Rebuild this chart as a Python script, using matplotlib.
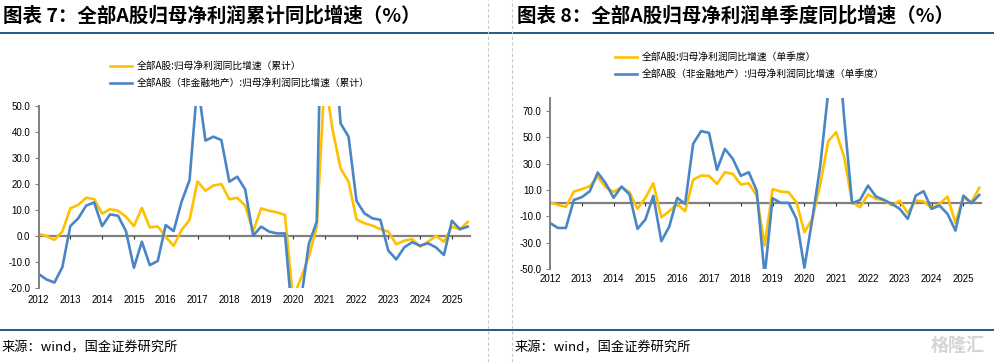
import numpy as np
import matplotlib
matplotlib.use('Agg')
import matplotlib.pyplot as plt
import matplotlib.transforms as mtransforms
from matplotlib.lines import Line2D

plt.rcParams['font.family'] = ['Noto Sans CJK SC', 'DejaVu Sans']

years = list(range(2012, 2026))

# quarterly data 2012Q1 - 2025Q3
cum_all = [0.8, 0.0, -1.5, 1.7, 10.6, 12.0, 14.7, 14.2, 8.6, 10.3, 9.7, 7.4,
           3.8, 10.8, 3.3, 3.7, -0.3, -3.8, 2.3, 6.2, 21.0, 17.4, 19.4, 20.0,
           14.1, 14.7, 11.7, 1.7, 10.6, 9.7, 9.1, 8.1, -24.0, -16.3, -8.0, 3.6,
           61.0, 40.8, 26.0, 20.9, 6.4, 4.9, 4.0, 2.6, 1.7, -3.2, -1.8, -1.2,
           -4.1, -2.2, 0.1, -2.2, 3.6, 2.6, 5.4]
cum_nonfin = [-14.6, -16.7, -17.9, -12.0, 3.8, 6.8, 11.7, 12.9, 3.8, 8.3, 7.8, 1.9,
              -12.2, -2.2, -11.2, -9.6, 4.2, 1.9, 13.2, 21.5, 59.0, 36.7, 38.2, 36.9,
              20.9, 22.8, 17.9, 0.1, 3.6, 1.7, 1.0, 1.0, -34.0, -25.0, -3.1, 5.5,
              150.0, 83.0, 43.3, 38.2, 13.5, 8.7, 6.8, 6.2, -5.6, -9.0, -4.4, -2.4,
              -3.7, -2.8, -4.4, -7.3, 5.9, 2.6, 3.6]
sq_all = [0.8, -1.3, -2.8, 8.9, 10.7, 12.9, 20.3, 12.2, 8.6, 12.2, 8.4, -4.3,
          4.1, 15.2, -10.7, -6.1, -0.5, -6.1, 17.8, 21.0, 20.8, 14.7, 23.6, 22.3,
          14.2, 15.2, 5.8, -32.2, 10.7, 8.9, 8.4, 0.8, -22.0, -11.9, 14.7, 47.2,
          54.0, 35.0, 0.8, -3.0, 6.6, 3.3, 2.5, -1.8, 2.0, -7.6, 2.0, 1.3,
          -3.6, -0.5, 5.1, -15.0, 4.6, 0.8, 11.7]
sq_nonfin = [-15.0, -18.8, -18.8, 2.5, 4.6, 9.1, 23.3, 15.2, 4.1, 12.7, 6.6, -19.5,
             -12.4, 5.6, -28.9, -17.8, 4.1, -0.5, 45.1, 54.8, 53.5, 25.4, 41.3, 33.7,
             20.8, 23.6, 9.6, -55.0, 3.8, 0.3, 0.3, -11.9, -49.0, -11.9, 28.7, 85.0,
             140.0, 65.0, 0.0, 2.5, 13.4, 5.1, 2.5, -0.5, -4.3, -11.9, 5.8, 9.1,
             -4.3, -1.8, -8.1, -20.8, 5.8, 0.0, 6.3]

yellow = '#FFC000'
blue = '#4A86C6'
grey = '#808080'
navy = '#0F4C75'

W, H = 994.0, 362.0
fig = plt.figure(figsize=(9.94, 3.62), dpi=100)


def panel(rect, s_all, s_nonfin, ylim, yticks, lab_y, labels, leg_xy):
    ax = fig.add_axes(rect)
    x = np.arange(len(s_all))
    l1, = ax.plot(x, s_all, color=yellow, lw=1.9, label=labels[0])
    l2, = ax.plot(x, s_nonfin, color=blue, lw=1.9, label=labels[1])
    ax.set_xlim(0, rect[2] * W / 7.95)
    ax.set_ylim(*ylim)
    for s in ['top', 'right']:
        ax.spines[s].set_visible(False)
    ax.spines['bottom'].set_position(('data', 0))
    ax.spines['bottom'].set_color(grey)
    ax.spines['bottom'].set_linewidth(1.6)
    ax.spines['bottom'].set_zorder(1)
    ax.spines['left'].set_color(grey)
    ax.spines['left'].set_linewidth(1.4)
    ax.set_yticks(yticks)
    ax.set_yticklabels(['%.1f' % v for v in yticks], fontsize=7,
                       fontfamily='Liberation Sans')
    ax.tick_params(axis='y', length=3, width=0.8, color=grey, pad=3)
    ticks = np.arange(0, len(s_all), 4)
    ax.set_xticks(ticks)
    ax.set_xticklabels([])
    ax.tick_params(axis='x', length=2.5, width=0.8, color='#333333', direction='out')
    trans = mtransforms.blended_transform_factory(ax.transData, ax.transAxes)
    for t, yr in zip(ticks, years):
        ax.text(t, lab_y, str(yr), transform=trans, ha='center', va='center',
                fontsize=7, fontfamily='Liberation Sans')
    fig.legend(handles=[l1, l2], loc='upper left',
               bbox_to_anchor=(leg_xy[0] / W, 1 - leg_xy[1] / H),
               frameon=False, fontsize=7, handlelength=2.3, handletextpad=0.5,
               labelspacing=0.75, borderpad=0, borderaxespad=0)
    return ax


panel([38.5 / W, 1 - 288 / H, 431.5 / W, 182 / H], cum_all, cum_nonfin,
      (-20, 50), np.arange(-20, 51, 10), -12 / 182.0,
      ['全部A股:归母净利润同比增速（累计）',
       '全部A股（非金融地产）:归母净利润同比增速（累计）'], (110, 61))

panel([550 / W, 1 - 269 / H, 431 / W, 171 / H], sq_all, sq_nonfin,
      (-50, 80), np.arange(-50, 71, 20), -10 / 171.0,
      ['全部A股:归母净利润同比增速（单季度）',
       '全部A股（非金融地产）:归母净利润同比增速（单季度）'], (615, 52))

# titles, rules and source
fig.text(3 / W, 1 - 16 / H, '图表 7：全部A股归母净利润累计同比增速（%）',
         fontsize=14, fontweight='bold', va='center')
fig.text(517 / W, 1 - 16 / H, '图表 8：全部A股归母净利润单季度同比增速（%）',
         fontsize=14, fontweight='bold', va='center')

for yy in [33, 330]:
    fig.add_artist(Line2D([0, 1], [1 - yy / H] * 2, transform=fig.transFigure,
                          color=navy, lw=1.3))
for xx in [488, 512]:
    fig.add_artist(Line2D([xx / W] * 2, [0, 1], transform=fig.transFigure,
                          color='#C8C8C8', lw=0.8, ls=(0, (3, 2))))

fig.text(2 / W, 1 - 348 / H, '来源：wind，国金证券研究所', fontsize=9.5, va='center')
fig.text(515 / W, 1 - 348 / H, '来源：wind，国金证券研究所', fontsize=9.5, va='center')
fig.text(985 / W, 1 - 345 / H, '格隆汇', fontsize=13, color='#D5D5D5',
         fontweight='bold', ha='right', va='center')

fig.savefig('out.png', dpi=100)
